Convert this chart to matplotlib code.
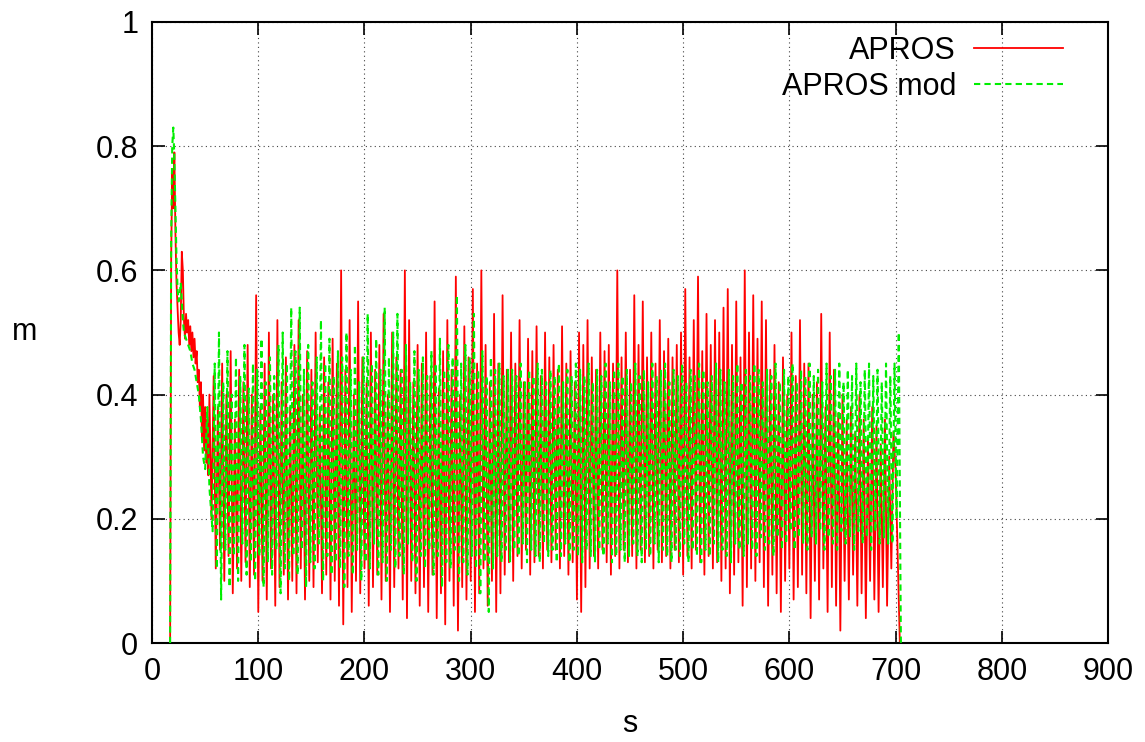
import numpy as np
import matplotlib
matplotlib.use("Agg")
import matplotlib.pyplot as plt

# start-up transient (s, m)
red_t0 = [17, 18, 19, 20, 21, 22, 23, 24, 25, 26, 27, 28, 29, 30, 31, 32, 33, 34, 35,
          36, 37, 38, 39, 40, 41, 42, 43, 44, 45, 46, 47, 48, 49, 50, 51, 52, 53, 54]
red_v0 = [0, 0.62, 0.76, 0.70, 0.79, 0.66, 0.58, 0.54, 0.50, 0.48, 0.52, 0.63, 0.60,
          0.52, 0.49, 0.53, 0.50, 0.52, 0.48, 0.51, 0.47, 0.50, 0.46, 0.49, 0.45, 0.47,
          0.42, 0.44, 0.38, 0.42, 0.33, 0.40, 0.31, 0.38, 0.29, 0.36, 0.27, 0.40]
green_t0 = [17, 18, 19, 20, 21, 22, 23, 24, 25, 26, 27, 28, 29, 30, 32, 34, 36, 38,
            40, 42, 44, 46, 48, 50, 52, 54]
green_v0 = [0, 0.65, 0.80, 0.83, 0.78, 0.70, 0.62, 0.57, 0.55, 0.56, 0.58, 0.55, 0.52,
            0.50, 0.49, 0.48, 0.47, 0.45, 0.44, 0.42, 0.40, 0.36, 0.30, 0.28, 0.38, 0.25]

# oscillation peaks / troughs, one row per 40 s (red troughs from 56 s, green from 57 s)
red_peaks = [
    0.43, 0.38, 0.45, 0.40, 0.47, 0.36, 0.44, 0.42, 0.48, 0.40,
    0.56, 0.38, 0.45, 0.50, 0.40, 0.52, 0.42, 0.46, 0.38, 0.48,
    0.52, 0.40, 0.47, 0.44, 0.50, 0.38, 0.46, 0.42, 0.49, 0.45,
    0.60, 0.44, 0.52, 0.40, 0.55, 0.46, 0.42, 0.50, 0.44, 0.48,
    0.53, 0.40, 0.50, 0.46, 0.44, 0.60, 0.52, 0.42, 0.48, 0.45,
    0.50, 0.43, 0.55, 0.41, 0.47, 0.52, 0.44, 0.59, 0.40, 0.51,
    0.46, 0.57, 0.45, 0.60, 0.48, 0.42, 0.53, 0.45, 0.56, 0.44,
    0.50, 0.45, 0.52, 0.42, 0.49, 0.47, 0.51, 0.43, 0.50, 0.46,
    0.48, 0.44, 0.51, 0.45, 0.47, 0.42, 0.50, 0.48, 0.52, 0.46,
    0.44, 0.50, 0.47, 0.48, 0.45, 0.60, 0.46, 0.50, 0.44, 0.56,
    0.48, 0.55, 0.46, 0.50, 0.45, 0.52, 0.47, 0.49, 0.46, 0.48,
    0.50, 0.57, 0.46, 0.52, 0.59, 0.47, 0.53, 0.48, 0.52, 0.50,
    0.54, 0.57, 0.48, 0.55, 0.46, 0.60, 0.50, 0.56, 0.49, 0.55,
    0.52, 0.44, 0.48, 0.42, 0.46, 0.40, 0.50, 0.43, 0.52, 0.45,
    0.45, 0.40, 0.42, 0.53, 0.38, 0.50, 0.44, 0.37, 0.40, 0.36,
    0.38, 0.34, 0.40, 0.36, 0.33, 0.38, 0.35, 0.32, 0.36, 0.30,
]
red_troughs = [
    0.20, 0.12, 0.15, 0.10, 0.14, 0.08, 0.12, 0.10, 0.13, 0.09,
    0.11, 0.05, 0.10, 0.07, 0.12, 0.06, 0.09, 0.11, 0.07, 0.10,
    0.08, 0.12, 0.07, 0.10, 0.09, 0.13, 0.08, 0.11, 0.07, 0.10,
    0.06, 0.03, 0.09, 0.05, 0.10, 0.08, 0.12, 0.06, 0.09, 0.11,
    0.07, 0.10, 0.05, 0.09, 0.12, 0.07, 0.04, 0.10, 0.08, 0.06,
    0.09, 0.05, 0.11, 0.04, 0.08, 0.03, 0.10, 0.06, 0.02, 0.09,
    0.07, 0.10, 0.05, 0.08, 0.12, 0.06, 0.10, 0.05, 0.08, 0.11,
    0.13, 0.10, 0.14, 0.12, 0.15, 0.11, 0.13, 0.14, 0.12, 0.15,
    0.13, 0.15, 0.12, 0.14, 0.11, 0.13, 0.07, 0.05, 0.09, 0.12,
    0.14, 0.12, 0.15, 0.13, 0.11, 0.14, 0.12, 0.15, 0.13, 0.14,
    0.12, 0.15, 0.13, 0.14, 0.12, 0.15, 0.13, 0.14, 0.12, 0.15,
    0.13, 0.11, 0.14, 0.12, 0.15, 0.13, 0.11, 0.14, 0.12, 0.13,
    0.10, 0.12, 0.08, 0.11, 0.13, 0.06, 0.09, 0.12, 0.10, 0.13,
    0.09, 0.06, 0.11, 0.08, 0.05, 0.10, 0.12, 0.07, 0.09, 0.11,
    0.08, 0.04, 0.10, 0.07, 0.12, 0.05, 0.09, 0.06, 0.02, 0.10,
    0.07, 0.11, 0.06, 0.08, 0.04, 0.10, 0.07, 0.05, 0.09, 0.06,
]
green_peaks = [
    0.45, 0.50, 0.42, 0.47, 0.40, 0.46, 0.43, 0.48, 0.41, 0.45,
    0.44, 0.49, 0.42, 0.46, 0.43, 0.48, 0.50, 0.45, 0.54, 0.47,
    0.54, 0.44, 0.48, 0.42, 0.46, 0.52, 0.45, 0.49, 0.43, 0.47,
    0.46, 0.50, 0.44, 0.48, 0.42, 0.46, 0.53, 0.45, 0.49, 0.44,
    0.54, 0.46, 0.50, 0.53, 0.44, 0.48, 0.42, 0.47, 0.44, 0.46,
    0.43, 0.47, 0.45, 0.49, 0.44, 0.48, 0.46, 0.56, 0.45, 0.48,
    0.46, 0.53, 0.44, 0.47, 0.43, 0.46, 0.44, 0.45, 0.43, 0.44,
    0.44, 0.43, 0.45, 0.42, 0.44, 0.43, 0.45, 0.44, 0.42, 0.44,
    0.43, 0.45, 0.42, 0.44, 0.43, 0.45, 0.44, 0.43, 0.45, 0.42,
    0.44, 0.43, 0.45, 0.42, 0.44, 0.45, 0.43, 0.44, 0.42, 0.45,
    0.43, 0.44, 0.42, 0.45, 0.43, 0.44, 0.45, 0.42, 0.44, 0.43,
    0.45, 0.42, 0.44, 0.43, 0.45, 0.44, 0.42, 0.43, 0.45, 0.44,
    0.42, 0.44, 0.43, 0.45, 0.42, 0.44, 0.43, 0.45, 0.44, 0.42,
    0.44, 0.43, 0.45, 0.42, 0.44, 0.43, 0.45, 0.42, 0.44, 0.43,
    0.45, 0.43, 0.44, 0.42, 0.45, 0.43, 0.44, 0.45, 0.42, 0.44,
    0.43, 0.45, 0.42, 0.44, 0.45, 0.43, 0.44, 0.42, 0.45, 0.43,
]
green_troughs = [
    0.18, 0.12, 0.07, 0.15, 0.09, 0.14, 0.10, 0.16, 0.11, 0.13,
    0.10, 0.14, 0.09, 0.13, 0.11, 0.15, 0.08, 0.12, 0.10, 0.14,
    0.11, 0.15, 0.09, 0.13, 0.12, 0.16, 0.10, 0.14, 0.11, 0.13,
    0.12, 0.09, 0.14, 0.11, 0.15, 0.10, 0.13, 0.12, 0.16, 0.11,
    0.13, 0.10, 0.15, 0.12, 0.14, 0.11, 0.16, 0.13, 0.10, 0.14,
    0.12, 0.15, 0.11, 0.14, 0.09, 0.13, 0.12, 0.15, 0.10, 0.13,
    0.11, 0.14, 0.12, 0.08, 0.13, 0.05, 0.12, 0.14, 0.13, 0.15,
    0.13, 0.15, 0.14, 0.16, 0.13, 0.15, 0.14, 0.13, 0.16, 0.14,
    0.15, 0.13, 0.14, 0.16, 0.13, 0.15, 0.14, 0.13, 0.15, 0.14,
    0.13, 0.15, 0.14, 0.16, 0.13, 0.14, 0.15, 0.13, 0.14, 0.16,
    0.14, 0.13, 0.15, 0.14, 0.16, 0.13, 0.15, 0.14, 0.13, 0.15,
    0.14, 0.16, 0.13, 0.15, 0.14, 0.13, 0.15, 0.14, 0.16, 0.13,
    0.15, 0.14, 0.13, 0.16, 0.15, 0.14, 0.16, 0.15, 0.14, 0.17,
    0.15, 0.16, 0.14, 0.17, 0.15, 0.16, 0.18, 0.15, 0.17, 0.16,
    0.15, 0.17, 0.16, 0.18, 0.15, 0.17, 0.16, 0.15, 0.18, 0.16,
    0.17, 0.15, 0.18, 0.16, 0.17, 0.15, 0.18, 0.16, 0.17, 0.16,
]

# shutdown at the end of the run
red_t1 = [696, 698, 700, 704]
red_v1 = [0.12, 0.34, 0.28, 0.0]
green_t1 = [697, 699, 701, 703, 705]
green_v1 = [0.16, 0.45, 0.20, 0.50, 0.0]

xticks = [0, 100, 200, 300, 400, 500, 600, 700, 800, 900]
yticks = [0, 0.2, 0.4, 0.6, 0.8, 1]
ytick_labels = ["0", "0.2", "0.4", "0.6", "0.8", "1"]


def build(t0, v0, first, peaks, troughs, t1, v1):
    n = len(peaks)
    tt = np.arange(2 * n) * 2.0 + first
    vv = np.empty(2 * n)
    vv[0::2] = troughs
    vv[1::2] = peaks
    t = np.concatenate([t0, tt, t1])
    v = np.concatenate([v0, vv, v1])
    return t, v


t_red, v_red = build(red_t0, red_v0, 56, red_peaks, red_troughs, red_t1, red_v1)
t_grn, v_grn = build(green_t0, green_v0, 57, green_peaks, green_troughs, green_t1, green_v1)

plt.rcParams['font.family'] = ['Liberation Sans', 'DejaVu Sans']

fig = plt.figure(figsize=(11.45, 7.42), dpi=100)
ax = fig.add_axes([0.1328, 0.1334, 0.8349, 0.837])

# gnuplot draws in order: red first, green dashed over it
ax.plot(t_red, v_red, color='#ff0000', lw=1.3, label='APROS', zorder=2)
ax.plot(t_grn, v_grn, color='#00ee00', lw=1.5, ls=(0, (3, 2)), label='APROS mod', zorder=3)

ax.set_xlim(0, 900)
ax.set_ylim(0, 1)
ax.set_xticks(xticks)
ax.set_yticks(yticks)
ax.set_yticklabels(ytick_labels)
ax.tick_params(direction='in', length=9, width=1.2, top=True, right=True,
               labelsize=22, pad=10)
ax.grid(True, color='#444444', ls=(0, (1, 3)), lw=0.8)
for s in ax.spines.values():
    s.set_linewidth(1.5)

ax.set_xlabel('s', fontsize=22, labelpad=16)
ax.set_ylabel('m', fontsize=22, rotation=0, ha='center', va='center')
ax.yaxis.set_label_coords(-0.133, 0.5)

ax.legend(loc='upper right', frameon=False, markerfirst=False, fontsize=22,
          handlelength=2.9, handletextpad=0.6, labelspacing=0.2,
          borderpad=0, borderaxespad=0, bbox_to_anchor=(0.953, 0.978))

fig.savefig('out.png', dpi=100)
